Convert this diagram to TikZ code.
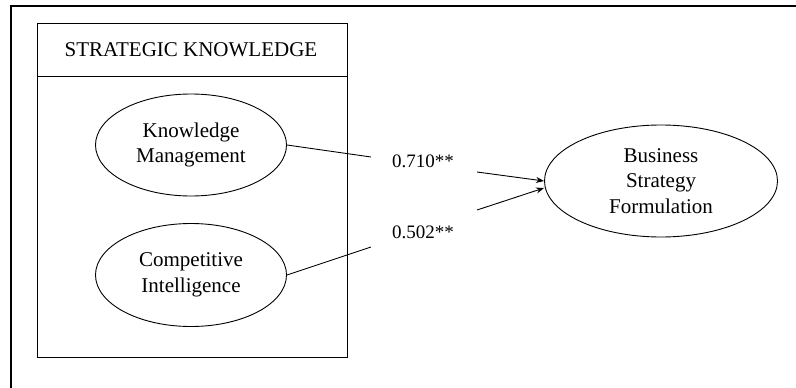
\documentclass[tikz,border=0pt]{standalone}
\usepackage{fontspec}
\setmainfont{Liberation Serif}
\usetikzlibrary{shapes.geometric,arrows.meta}
\begin{document}
\begin{tikzpicture}[x=1pt,y=-1pt,
  txt/.style={font=\fontsize{21}{25.5}\selectfont, align=center, inner sep=0pt},
  num/.style={font=\fontsize{19}{22}\selectfont, inner sep=0pt},
  oval/.style={draw, ellipse, line width=0.9pt, inner sep=0pt, txt},
  conn/.style={line width=0.9pt},
  arr/.style={line width=0.9pt, -{Stealth[length=8pt,width=6pt]}},
  frame/.style={line width=2.6pt}
]
\useasboundingbox (0,0) rectangle (796,388);
% outer frame (top and left only)
\draw[frame] (11,388) -- (11,6) -- (796,6);
% strategic knowledge box
\node[draw, line width=0.9pt, minimum width=310pt, minimum height=334pt, inner sep=0pt, anchor=north west] (box) at (37,23) {};
\coordinate (divl) at (37,76);
\coordinate (divr) at (347,76);
\draw[line width=0.9pt] (divl) -- (divr);
\node[txt] (title) at (191,50) {STRATEGIC KNOWLEDGE};
% ellipses
\node[oval, minimum width=191pt, minimum height=102pt] (km) at (191,145) {Knowledge\\Management};
\node[oval, minimum width=191pt, minimum height=103pt] (ci) at (191,275) {Competitive\\Intelligence};
\node[oval, minimum width=233pt, minimum height=112pt] (bsf) at (661,181) {Business\\Strategy\\Formulation};
% labels
\node[num] (l1) at (423,161) {0.710**};
\node[num] (l2) at (423,232) {0.502**};
% connector points
\coordinate (k1) at (371,157);
\coordinate (k2) at (477,172);
\coordinate (c1) at (371,247);
\coordinate (c2) at (477,210);
\draw[conn] (km.east) -- (k1);
\draw[arr] (k2) -- (bsf.west);
\draw[conn] (ci.east) -- (c1);
\draw[arr] (c2) -- ([yshift=-7pt]bsf.west);
\end{tikzpicture}
\end{document}
